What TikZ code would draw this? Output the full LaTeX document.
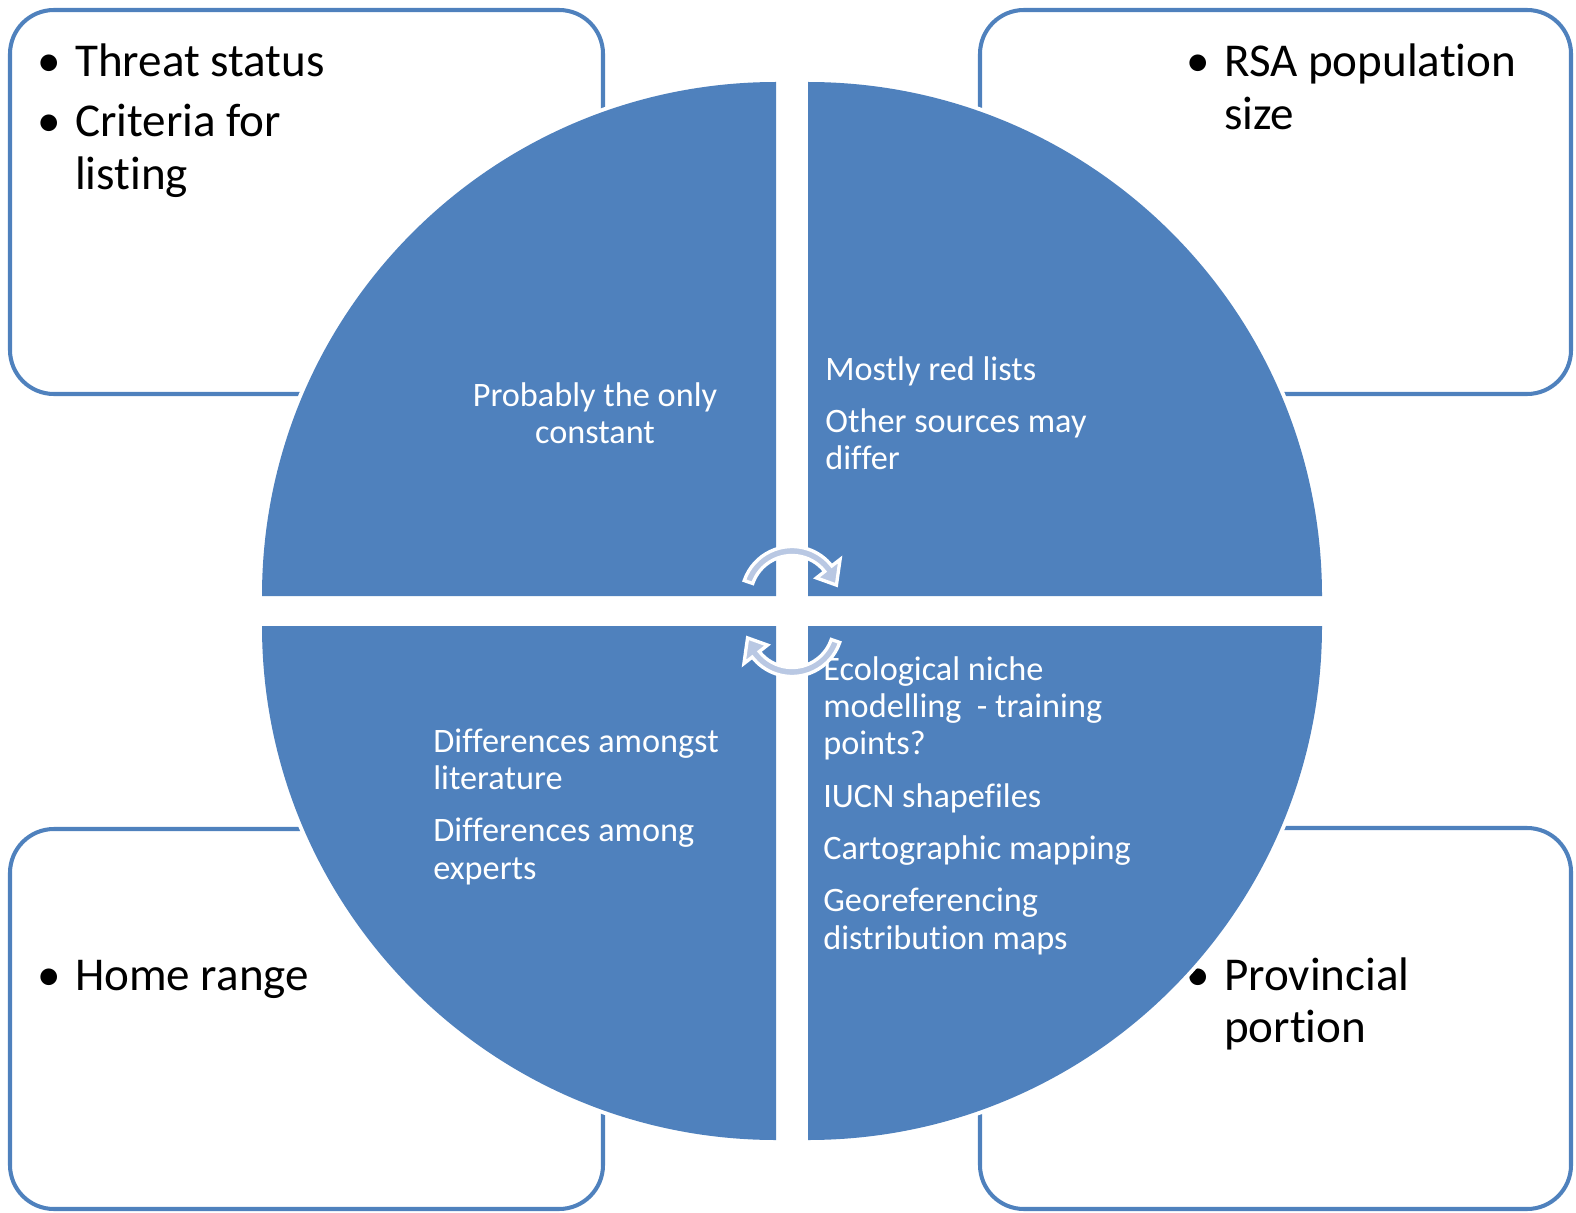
\documentclass[tikz,border=0pt]{standalone}
\usepackage{fontspec}
\setmainfont{Carlito}[Ligatures=NoCommon]
\usepackage{tikz}
\usetikzlibrary{arrows.meta}

\definecolor{qblue}{RGB}{79,129,189}
\definecolor{cycfill}{RGB}{185,200,227}

\newcommand{\bitem}[1]{\makebox[21.5pt][l]{\textbullet}\begin{tabular}[t]{@{}l@{}}#1\end{tabular}}

\begin{document}
\begin{tikzpicture}[
    x=0.02cm, y=-0.02cm,
    box/.style={draw=qblue, line width=2.3pt, rounded corners=25pt},
    quad/.style={fill=qblue, preaction={draw=white, line width=4.5pt}},
    cyc/.style={fill=cycfill, draw=white, line width=1.9pt},
    boxtxt/.style={anchor=base west, inner sep=0pt, text width=10cm, align=flush left, font={\fontsize{26.8pt}{30pt}\selectfont\parskip=4pt}},
    quadtxt/.style={anchor=base west, inner sep=0pt, text width=7cm, align=flush left, text=white, font={\fontsize{19.5pt}{21.3pt}\selectfont\parskip=8.5pt}},
    midtxt/.style={anchor=base, inner sep=0pt, text width=7cm, align=flush center, text=white, font={\fontsize{19.5pt}{21.3pt}\selectfont}}
]
\useasboundingbox (0,0) rectangle (1576,1213);

\draw[box] (10,10) rectangle (603,394);
\draw[box] (980,10) rectangle (1571,394);
\draw[box] (10,829) rectangle (603,1209);
\draw[box] (980,828) rectangle (1571,1209);

\node[boxtxt] (threat) at (37,77) {\bitem{Threat status}\par\bitem{Criteria for\\listing}};
\node[boxtxt] (popsize) at (1186,77) {\bitem{RSA population\\size}};
\node[boxtxt] (homerange) at (37,990) {\bitem{Home range}};
\node[boxtxt] (province) at (1186,990) {\bitem{Provincial\\portion}};

\fill[quad] (776,596) -- (262,596) arc[start angle=180, end angle=270, radius=514] -- cycle;
\fill[quad] (808,596) -- (808,82) arc[start angle=270, end angle=360, radius=514] -- cycle;
\fill[quad] (808,626) -- (1322,626) arc[start angle=0, end angle=90, radius=514] -- cycle;
\fill[quad] (776,626) -- (776,1140) arc[start angle=90, end angle=180, radius=514] -- cycle;

\node[midtxt] (constant) at (595,406) {Probably the only\\constant};
\node[quadtxt] (redlists) at (825,380) {Mostly red lists\par Other sources may\newline differ};
\node[quadtxt] (experts) at (433,752) {Differences amongst\newline literature\par Differences among\newline experts};
\node[quadtxt] (mapping) at (823,680) {Ecological niche\newline modelling\ \ - training\newline points?\par IUCN shapefiles\par Cartographic mapping\par Georeferencing\newline distribution maps};

\begin{scope}[shift={(792,597)}]
\filldraw[cyc] (199:50.5) arc[start angle=199, end angle=322, radius=50.5] -- (322:61) -- (345:46) -- (322:31) -- (322:41.5) arc[start angle=322, end angle=199, radius=41.5] -- cycle;
\end{scope}
\begin{scope}[shift={(792,626)}, rotate=180]
\filldraw[cyc] (199:50.5) arc[start angle=199, end angle=322, radius=50.5] -- (322:61) -- (345:46) -- (322:31) -- (322:41.5) arc[start angle=322, end angle=199, radius=41.5] -- cycle;
\end{scope}
\end{tikzpicture}
\end{document}
